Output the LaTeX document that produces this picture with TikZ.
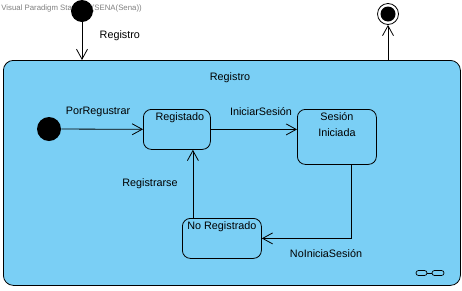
\documentclass[tikz,border=0pt]{standalone}
\usepackage{fontspec}
\setmainfont{Liberation Sans}
\usetikzlibrary{arrows.meta}
\definecolor{regblue}{RGB}{122,207,245}

\begin{document}
\begin{tikzpicture}[x=1pt, y=-1pt, line width=0.8pt,
  every node/.style={font=\fontsize{10.8}{16}\selectfont},
  flow/.style={-{Straight Barb[length=10pt,width=11pt]}},
  estado/.style={draw, rounded corners=8pt, fill=regblue, anchor=north west, inner sep=0pt},
  nombre/.style={anchor=north, align=center, inner sep=3.5pt}]
\useasboundingbox (0,0) rectangle (462,290);
\fill[white] (0,0) rectangle (462,290);

% outer composite state
\node[estado, rounded corners=10pt, minimum width=457, minimum height=225] (comp) at (3,60) {};
\node (titulo) at (230,78) {Registro};

\node[gray, font=\fontsize{7.8}{9}\selectfont, anchor=west, inner sep=0pt] (marca) at (1,8) {Visual Paradigm Standard(SENA(Sena))};

% entry and exit
\node[circle, fill=black, minimum size=22, inner sep=0pt] (ini) at (82,11) {};
\node[circle, draw, fill=white, minimum size=21, inner sep=0pt] (fin) at (388,14) {};
\fill (fin) circle (7.5);

\draw[flow] (ini) -- (ini |- comp.north);
	\node [anchor=west] (lreg) at (96,36) {Registro};
\draw[flow] (comp.north -| fin) -- (fin);

% inner states
\node[circle, fill=black, minimum size=24, inner sep=0pt] (ini2) at (49,129) {};
\node[estado, minimum width=67, minimum height=40,
      label={[nombre, xshift=3pt]north:Registado}] (reg) at (143,109) {};
\node[estado, minimum width=79, minimum height=55,
      label={[nombre]north:Sesión\\Iniciada}] (ses) at (297,109) {};
\node[estado, minimum width=79, minimum height=40,
      label={[nombre]north:No Registrado}] (noreg) at (182,218) {};

\draw[flow] (ini2) -- (reg);
\draw[flow] (reg) -- (reg -| ses.west);
\draw[flow] ([xshift=14pt]ses.south) |- (noreg);
\draw[flow] ([xshift=-29pt]noreg.north) -- ([xshift=-29pt]noreg.north |- reg.south);

	\node (l1) at (98,112) {PorRegustrar};
	\node (l2) at (261,112) {IniciarSesión};
	\node (l3) at (326,254) {NoIniciaSesión};
	\node (l4) at (150,184) {Registrarse};

% link mark
\draw[line width=0.7pt, rounded corners=2.5pt] (416,270.5) rectangle (427,275.5);
\draw[line width=0.7pt, rounded corners=2.5pt] (432,270.5) rectangle (444,275.5);
\draw[line width=0.7pt] (427,273) -- (432,273);
\end{tikzpicture}
\end{document}
